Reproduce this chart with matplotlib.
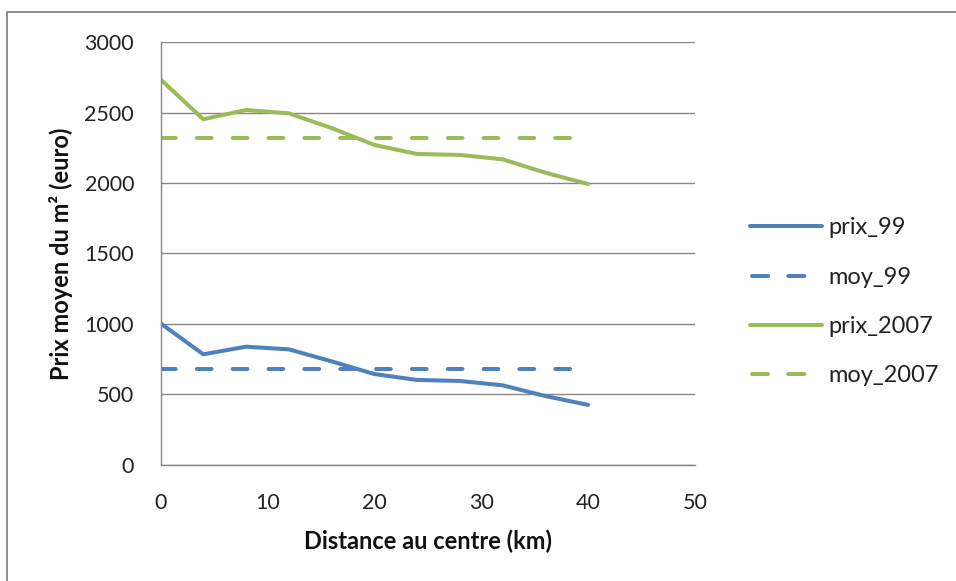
import matplotlib.pyplot as plt
from matplotlib.patches import Rectangle

plt.rcParams['font.family'] = ['Lato', 'DejaVu Sans']

# distance au centre (km)
distance = [0, 4, 8, 12, 16, 20, 24, 28, 32, 36, 40]
prix_99 = [1005, 785, 839, 820, 735, 645, 603, 596, 565, 489, 426]
prix_2007 = [2735, 2452, 2518, 2494, 2390, 2270, 2206, 2199, 2168, 2073, 1993]
moy_99 = [681] * len(distance)
moy_2007 = [2319] * len(distance)

blue = '#4F81BD'
green = '#9BBB59'
grey = '#868686'

fig = plt.figure(figsize=(9.56, 5.81), dpi=100)
ax = fig.add_axes([0.1679, 0.1997, 0.5591, 0.728])

dash = (0, (3.65, 5.25))
ax.plot(distance, prix_99, color=blue, lw=2.9, label='prix_99', solid_capstyle='round')
ax.plot(distance, moy_99, color=blue, lw=2.9, ls=dash, dash_capstyle='round', label='moy_99')
ax.plot(distance, prix_2007, color=green, lw=2.9, label='prix_2007', solid_capstyle='round')
ax.plot(distance, moy_2007, color=green, lw=2.9, ls=dash, dash_capstyle='round', label='moy_2007')

ax.set_xlim(0, 50)
ax.set_ylim(0, 3000)
ax.set_xticks(range(0, 51, 10))
ax.set_yticks(range(0, 3001, 500))
ax.tick_params(length=0, labelsize=15.5, colors='#222222')
ax.tick_params(axis='x', pad=20)
ax.tick_params(axis='y', pad=19)

ax.grid(axis='y', color=grey, lw=1)
ax.set_axisbelow(True)
for s in ['top', 'right']:
    ax.spines[s].set_visible(False)
for s in ['left', 'bottom']:
    ax.spines[s].set_color(grey)
    ax.spines[s].set_linewidth(1)

ax.set_xlabel('Distance au centre (km)', fontsize=17, fontweight='bold', color='#111111')
ax.set_ylabel('Prix moyen du m² (euro)', fontsize=17, fontweight='bold', color='#111111')
ax.xaxis.set_label_coords(0.5, -0.153)
ax.yaxis.set_label_coords(-0.164, 0.5)

leg = ax.legend(loc='center left', bbox_to_anchor=(750 / 956, 1 - 302 / 581),
                bbox_transform=fig.transFigure, frameon=False, fontsize=17, borderpad=0,
                borderaxespad=0, handlelength=3.05, labelspacing=1.2, handletextpad=0.25)
for t in leg.get_texts():
    t.set_color('#222222')
for ln in leg.get_lines():
    if ln.get_label().startswith('moy'):
        ln.set_linestyle((8.5, (4, 5)))
        ln.set_dash_capstyle('round')

# cadre gris du graphique
fig.patches.append(Rectangle((7 / 956, -0.1), 1.1, 1 - 12 / 581 + 0.1, transform=fig.transFigure,
                             fill=False, edgecolor=grey, lw=1.3))

fig.savefig('out.png', dpi=100)
